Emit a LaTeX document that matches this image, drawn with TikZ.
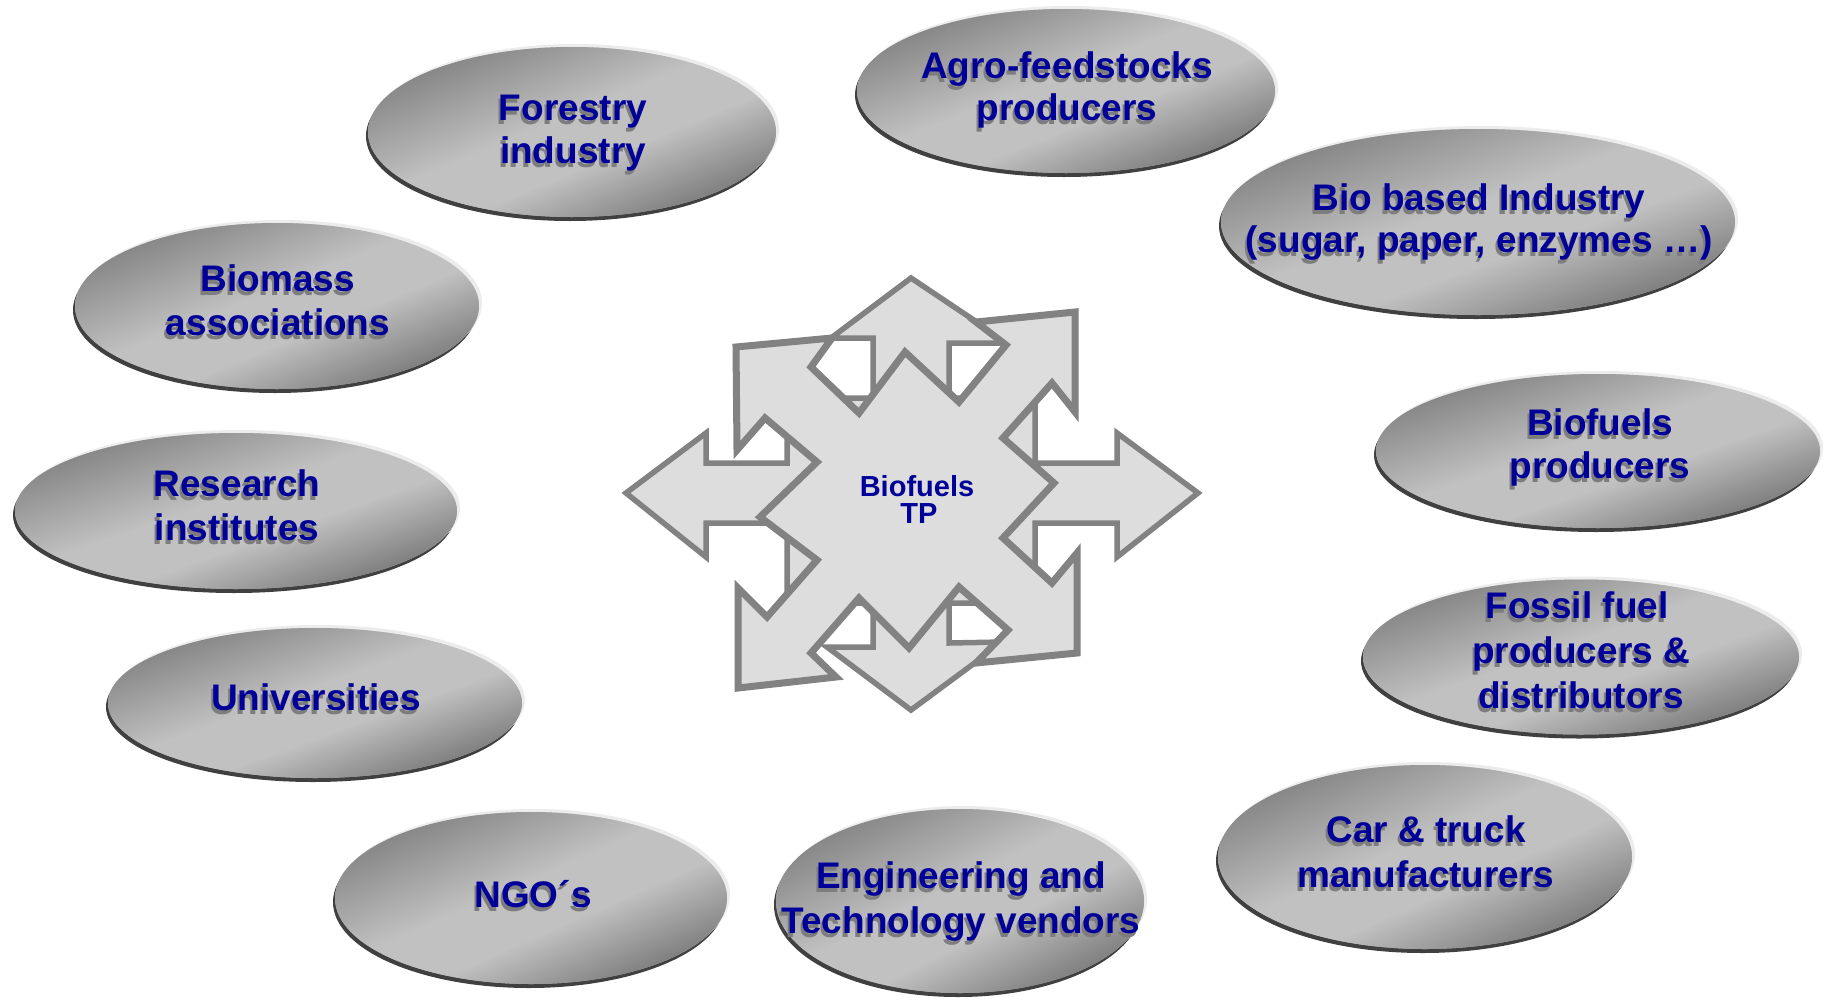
\documentclass[tikz,border=0pt]{standalone}
\usepackage{fontspec}
\setmainfont{Liberation Sans}
\usetikzlibrary{shapes.geometric,shadows}

\definecolor{txtblue}{RGB}{0,0,153}
\definecolor{txtshade}{RGB}{125,125,125}
\definecolor{rimdark}{RGB}{64,64,64}
\definecolor{rimlight}{RGB}{236,236,236}
\definecolor{gA}{RGB}{136,136,136}
\definecolor{gB}{RGB}{193,193,193}
\definecolor{gC}{RGB}{128,128,128}
\definecolor{arrowfill}{RGB}{221,221,221}
\definecolor{arrowline}{RGB}{130,130,130}

% grey band gradient of the stakeholder ovals (laid on a unit disc, then stretched)
\pgfdeclarehorizontalshading{ellgrad}{100bp}{color(0bp)=(gA); color(33.3bp)=(gA); color(47.5bp)=(gB); color(55.5bp)=(gB); color(66.7bp)=(gC); color(100bp)=(gC)}

% caption text with a grey drop shadow set underneath it
\newcommand{\shadowed}[1]{\makebox[0pt][l]{\hspace*{-2pt}\raisebox{-4pt}{\textcolor{txtshade}{#1}}}#1}

% stakeholder oval: name, centre x, centre y, half width, half height
\newcommand{\stakeoval}[5]{%
  \node[pill, minimum width={2*#4pt}, minimum height={2*#5pt}] (#1) at (#2,#3) {};
  \begin{scope}
    \clip (#2,#3) ellipse [x radius=#4, y radius=#5];
    \begin{scope}[transform canvas={shift={(#2,#3)}, xscale=#4/100, yscale=#5/100, rotate=-45}]
      \shade[shading=ellgrad] (-150pt,-150pt) rectangle (150pt,150pt);
    \end{scope}
  \end{scope}}

\begin{document}
\begin{tikzpicture}[x=1pt,y=-1pt,
  pill/.style={ellipse, inner sep=0pt, outer sep=0pt, fill=gB,
    general shadow={fill=rimdark, shadow xshift=-2pt, shadow yshift=-4pt},
    general shadow={fill=rimlight, shadow xshift=3pt, shadow yshift=3pt}},
  lbl/.style={inner sep=0pt, outer sep=0pt, anchor=base, text=txtblue,
    font=\fontsize{37}{43}\selectfont\bfseries},
  hublbl/.style={lbl, font=\fontsize{29}{27}\selectfont\bfseries},
  hubshape/.style={fill=arrowfill, draw=arrowline, line join=miter},
]
\useasboundingbox (0,0) rectangle (1828,999);
\fill[white] (0,0) rectangle (1828,999);

% ---- central hub: straight four-way arrow behind a diagonal four-way arrow
\draw[hubshape, line width=5.5pt]
  (911,278) -- (1008,343) -- (949,343) -- (949,398) -- (1035,398) -- (1035,463)
  -- (1117,463) -- (1117,433) -- (1198,493) -- (1117,557) -- (1117,523) -- (1035,523)
  -- (1035,603) -- (949,603) -- (949,643) -- (1003,642) -- (911,710) -- (827,647)
  -- (873,647) -- (873,603) -- (787,603) -- (787,523) -- (706,523) -- (706,557)
  -- (626,493) -- (706,433) -- (706,463) -- (787,463) -- (787,398) -- (873,398)
  -- (873,338) -- (831,338) -- cycle;
\draw[hubshape, line width=7pt]
  (736,347) -- (832,338) -- (811,367) -- (859,413) -- (905,352) -- (959,402)
  -- (1006,345) -- (976,322) -- (1075,312) -- (1075,412) -- (1052,383) -- (1003,438)
  -- (1054,483) -- (1003,538) -- (1052,583) -- (1077,553) -- (1077,653) -- (976,663)
  -- (1008,630) -- (959,587) -- (909,648) -- (859,598) -- (811,653) -- (836,677)
  -- (738,688) -- (738,588) -- (767,617) -- (817,560) -- (760,517) -- (817,462)
  -- (765,418) -- (737,450) -- cycle;
\node[hublbl] (hub-a) at (917,496) {Biofuels};
\node[hublbl] (hub-b) at (919,523) {TP};

% ---- stakeholder ovals
\stakeoval{forestry}{572}{132}{204}{85}
\stakeoval{agro}{1066}{91}{209}{82}
\stakeoval{biobased}{1478}{222}{257}{93}
\stakeoval{biomass}{277}{306}{202}{83}
\stakeoval{research}{236}{511}{221}{78}
\stakeoval{universities}{315}{703}{207}{75}
\stakeoval{ngo}{531}{898}{196}{86}
\stakeoval{engineering}{960}{901}{184}{92}
\stakeoval{car}{1425}{857}{207}{92}
\stakeoval{bfproducers}{1598}{451}{222}{77}
\stakeoval{fossil}{1581}{657}{218}{77.5}

% ---- oval captions
\node[lbl] (forestry-a) at (573,120) {\shadowed{Forestry}};
\node[lbl] (forestry-b) at (573,163) {\shadowed{industry}};
\node[lbl] (agro-a) at (1067,78) {\shadowed{Agro-feedstocks}};
\node[lbl] (agro-b) at (1067,120) {\shadowed{producers}};
\node[lbl] (biobased-a) at (1479,210) {\shadowed{Bio based Industry}};
\node[lbl] (biobased-b) at (1479,252) {\shadowed{(sugar, paper, enzymes …)}};
\node[lbl] (biomass-a) at (278,291) {\shadowed{Biomass}};
\node[lbl] (biomass-b) at (278,335) {\shadowed{associations}};
\node[lbl] (research-a) at (237,496) {\shadowed{Research}};
\node[lbl] (research-b) at (237,540) {\shadowed{institutes}};
\node[lbl] (universities-a) at (316,710) {\shadowed{Universities}};
\node[lbl] (ngo-a) at (533,907) {\shadowed{NGO´s}};
\node[lbl] (engineering-a) at (961,888) {\shadowed{Engineering and}};
\node[lbl] (engineering-b) at (961,933) {\shadowed{Technology vendors}};
\node[lbl] (car-a) at (1426,842) {\shadowed{Car \& truck}};
\node[lbl] (car-b) at (1426,887) {\shadowed{manufacturers}};
\node[lbl] (bfproducers-a) at (1600,435) {\shadowed{Biofuels}};
\node[lbl] (bfproducers-b) at (1600,478) {\shadowed{producers}};
\node[lbl] (fossil-a) at (1577,618) {\shadowed{Fossil fuel}};
\node[lbl] (fossil-b) at (1581,663) {\shadowed{producers \&}};
\node[lbl] (fossil-c) at (1581,708) {\shadowed{distributors}};
\end{tikzpicture}
\end{document}
